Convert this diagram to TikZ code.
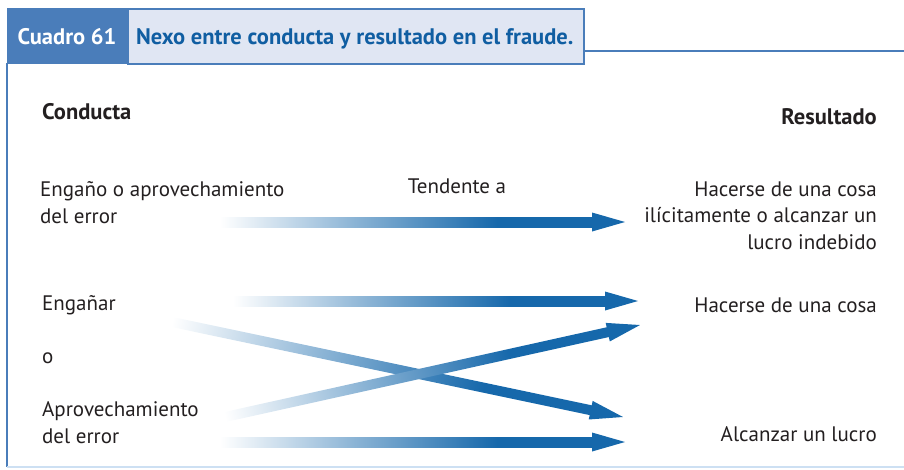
\documentclass[tikz,border=0pt]{standalone}
\usepackage{fontspec}
\setmainfont{PT Sans}
\usetikzlibrary{calc}
\definecolor{ablue}{RGB}{22,104,171}
\colorlet{ablueh}{ablue!50}
\definecolor{framec}{RGB}{74,125,186}
\definecolor{lightf}{RGB}{224,230,243}
\definecolor{titlec}{RGB}{16,94,162}
\definecolor{botline}{RGB}{205,224,243}
\definecolor{txt}{RGB}{35,31,32}
\pgfdeclarehorizontalshading{arrowshade}{100bp}{color(0bp)=(white); color(25bp)=(white); color(43bp)=(ablueh); color(62bp)=(ablue); color(100bp)=(ablue)}
\newcommand\gradarrow[2]{%
  \pgfpointdiff{\pgfpointanchor{#1}{center}}{\pgfpointanchor{#2}{center}}%
  \pgfgetlastxy{\gax}{\gay}%
  \pgfmathsetmacro\galen{veclen(\gax,\gay)}%
  \pgfmathsetmacro\gaang{atan2(\gay,\gax)}%
  \begin{scope}[transform canvas={shift={(#1)},rotate=\gaang}]
    \shade[shading=arrowshade, shading angle=0]
      (0pt,-5pt) rectangle (\galen pt-30pt,5pt);
    \fill[ablue] (\galen pt-33pt,-9.5pt) -- (\galen pt,0pt) -- (\galen pt-33pt,9.5pt) -- cycle;
  \end{scope}}
\tikzset{
  body/.style={inner sep=0pt, text=txt, font=\fontsize{21}{26.5}\selectfont},
  lefttxt/.style={body, anchor=base west, align=left},
  righttxt/.style={body, anchor=base east, align=right},
  bhead/.style={inner sep=0pt, text=txt, font=\fontsize{22.5}{27}\selectfont\bfseries},
  head/.style={inner sep=0pt, font=\fontsize{22.5}{26}\selectfont\bfseries},
}
\begin{document}
\begin{tikzpicture}[x=1pt,y=-1pt]
\useasboundingbox (0,0) rectangle (904,469);
% frame
\fill[framec] (7,8) rectangle (128,64);
\draw[framec, line width=2pt, fill=lightf] (128,9) rectangle (584,64);
\draw[framec, line width=2pt] (584,51) -- (904,51);
\draw[framec, line width=2pt] (7,63) -- (7,467);
\draw[botline, line width=2pt] (7,467) -- (904,467);
\node[head, text=white, anchor=base] (num) at (67,44) {Cuadro 61};
\node[head, text=titlec, anchor=base west] (title) at (136,44) {Nexo entre conducta y resultado en el fraude.};
% headings
\node[bhead, anchor=base west] (cond) at (42,119) {Conducta};
\node[bhead, anchor=base east] (res) at (877,124) {Resultado};
% left texts
\node[lefttxt] (l1) at (40,223) {Engaño o aprovechamiento\\del error};
\node[lefttxt] (l2) at (42,310) {Engañar};
\node[lefttxt] (l3) at (42,363) {o};
\node[lefttxt] (l4) at (42,443) {Aprovechamiento\\del error};
% right texts
\node[righttxt] (r1) at (877,249) {Hacerse de una cosa\\ilícitamente o alcanzar un\\lucro indebido};
\node[righttxt] (r2) at (877,312) {Hacerse de una cosa};
\node[righttxt] (r3) at (877,441) {Alcanzar un lucro};
\node[body, anchor=base] (tend) at (457,193) {Tendente a};
% arrow ends
\coordinate (a1s) at (220,222); \coordinate (a1e) at (625,222);
\coordinate (a2s) at (233,301); \coordinate (a2e) at (638,301);
\coordinate (a3s) at (172,322); \coordinate (a3e) at (623,417);
\coordinate (a4s) at (225,417); \coordinate (a4e) at (640,325);
\coordinate (a5s) at (220,442); \coordinate (a5e) at (625,442);
\gradarrow{a1s}{a1e}
\gradarrow{a2s}{a2e}
\gradarrow{a3s}{a3e}
\gradarrow{a4s}{a4e}
\gradarrow{a5s}{a5e}
\end{tikzpicture}
\end{document}
